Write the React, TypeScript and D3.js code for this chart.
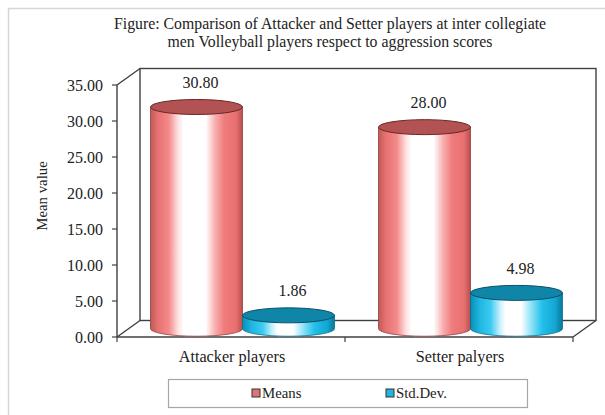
import React from "react";
import * as d3 from "d3";

const categories = ["Attacker players", "Setter palyers"];
const seriesNames = ["Means", "Std.Dev."];
const meansValues = [30.8, 28.0];
const stdDevValues = [1.86, 4.98];
const yTicks = [0, 5, 10, 15, 20, 25, 30, 35];
const titleLines = [
  "Figure: Comparison of Attacker and Setter players at inter collegiate",
  "men Volleyball players respect to aggression scores",
];

const W = 605;
const H = 415;
const font = "'Liberation Serif', 'Times New Roman', serif";

export default function App() {
  const x0 = 117, x1 = 573, yTop = 85, yBot = 337;
  const dx = 23, dy = -16.5;
  const y = d3.scaleLinear().domain([0, 35]).range([yBot, yTop]);
  const xBand = d3.scaleBand<string>().domain(categories).range([x0, x1]).padding(0);
  const inner = d3.scaleBand<string>().domain(seriesNames).range([-92, 92]).padding(0);
  const mx = dx / 2, my = dy / 2;
  const rx = inner.bandwidth() / 2;
  const ry = 7.5;
  const seriesData = [meansValues, stdDevValues];
  const styles = [
    { grad: "gMeans", top: "#b35252", topStroke: "#6e2626", stroke: "#8e3f3f", sw: "#e07575" },
    { grad: "gStd", top: "#0f86a8", topStroke: "#08506a", stroke: "#0a6f8c", sw: "#22b4dc" },
  ];
  const fmt = d3.format(".2f");

  const bars: any[] = [];
  categories.forEach((c, ci) => {
    seriesNames.forEach((s, si) => {
      const v = seriesData[si][ci];
      const cx = (xBand(c) as number) + xBand.bandwidth() / 2 + (inner(s) as number) + rx + mx;
      const base = y(0) + my;
      const top = y(v) + my;
      bars.push({ cx, base, top, v, si, key: c + s });
    });
  });

  return (
    <svg width={W} height={H} style={{ position: "absolute", left: 0, top: 0, background: "#fff" }}
      fontFamily={font}>
      <defs>
        <linearGradient id="gMeans" x1="0" x2="1" y1="0" y2="0">
          <stop offset="0" stopColor="#c25858" />
          <stop offset="0.08" stopColor="#e77272" />
          <stop offset="0.2" stopColor="#f48a8a" />
          <stop offset="0.3" stopColor="#fde2e2" />
          <stop offset="0.36" stopColor="#ffffff" />
          <stop offset="0.6" stopColor="#ffffff" />
          <stop offset="0.7" stopColor="#f8b0b0" />
          <stop offset="0.8" stopColor="#f07c7c" />
          <stop offset="0.93" stopColor="#e87070" />
          <stop offset="1" stopColor="#b94f4f" />
        </linearGradient>
        <linearGradient id="gStd" x1="0" x2="1" y1="0" y2="0">
          <stop offset="0" stopColor="#0a8fb6" />
          <stop offset="0.1" stopColor="#1fb6e0" />
          <stop offset="0.22" stopColor="#3ccbf0" />
          <stop offset="0.32" stopColor="#c8f0fb" />
          <stop offset="0.38" stopColor="#ffffff" />
          <stop offset="0.55" stopColor="#ffffff" />
          <stop offset="0.66" stopColor="#8fe2f7" />
          <stop offset="0.78" stopColor="#22c0ea" />
          <stop offset="0.92" stopColor="#14a6d2" />
          <stop offset="1" stopColor="#08789a" />
        </linearGradient>
      </defs>

      {/* outer border */}
      <rect x={8.5} y={8.5} width={W} height={H} fill="none" stroke="#d6d6d6" strokeWidth={1.5} />

      {/* title */}
      {titleLines.map((t, i) => (
        <text key={i} x={330} y={29 + i * 17.5} textAnchor="middle" fontSize={15.8} fill="#222">{t}</text>
      ))}

      {/* walls */}
      <g stroke="#404040" strokeWidth={1.4} fill="none">
        <rect x={x0 + dx} y={yTop + dy} width={x1 - x0} height={yBot - yTop} />
        <line x1={x0} y1={yTop} x2={x0 + dx} y2={yTop + dy} />
        <line x1={x0} y1={yBot} x2={x0 + dx} y2={yBot + dy} />
        <line x1={x1} y1={yBot} x2={x1 + dx} y2={yBot + dy} />
        <line x1={x0} y1={yTop} x2={x0} y2={yBot} />
        <line x1={x0} y1={yBot} x2={x1} y2={yBot} />
      </g>

      {/* y ticks */}
      {yTicks.map((t) => (
        <g key={t}>
          <line x1={x0 - 5} x2={x0} y1={y(t)} y2={y(t)} stroke="#404040" strokeWidth={1.2} />
          <text x={103} y={y(t)} dy="0.35em" textAnchor="end" fontSize={16} fill="#222">{fmt(t)}</text>
        </g>
      ))}
      {/* category ticks */}
      {[x0, ...categories.map((c) => (xBand(c) as number) + xBand.bandwidth())].map((xx, i) => (
        <line key={i} x1={xx} x2={xx} y1={yBot} y2={yBot + 5} stroke="#404040" strokeWidth={1.2} />
      ))}

      {/* y title */}
      <text transform={`translate(47,${(yTop + yBot) / 2 - 15}) rotate(-90)`} textAnchor="middle" fontSize={14.8} fill="#222">Mean value</text>

      {/* bars */}
      {bars.map((b) => {
        const st = styles[b.si];
        const body = `M${b.cx - rx},${b.top} L${b.cx - rx},${b.base} A${rx},${ry} 0 0 0 ${b.cx + rx},${b.base} L${b.cx + rx},${b.top} Z`;
        return (
          <g key={b.key}>
            <path d={body} fill={`url(#${st.grad})`} stroke={st.stroke} strokeWidth={0.8} />
            <ellipse cx={b.cx} cy={b.top} rx={rx} ry={ry} fill={st.top} stroke={st.topStroke} strokeWidth={1} />
          </g>
        );
      })}

      {/* value labels */}
      {bars.map((b) => (
        <text key={"l" + b.key} x={b.cx + 4} y={b.top - 19} textAnchor="middle" fontSize={16} fill="#222">{fmt(b.v)}</text>
      ))}

      {/* category labels */}
      {categories.map((c) => (
        <text key={c} x={(xBand(c) as number) + xBand.bandwidth() / 2 + 1} y={362} textAnchor="middle" fontSize={16.2} fill="#222">{c}</text>
      ))}

      {/* legend */}
      <rect x={168.5} y={379.5} width={359} height={28} fill="#fff" stroke="#a6a6a6" strokeWidth={1.2} />
      {seriesNames.map((s, i) => {
        const lx = i === 0 ? 252 : 386;
        return (
          <g key={s}>
            <rect x={lx} y={389} width={8} height={8} fill={styles[i].sw} stroke="#333" strokeWidth={1} />
            <text x={lx + 10} y={398} fontSize={14.8} fill="#222">{s}</text>
          </g>
        );
      })}
    </svg>
  );
}
